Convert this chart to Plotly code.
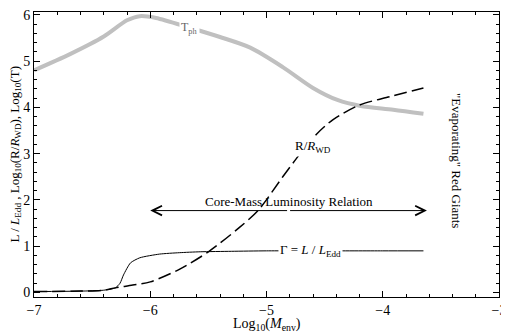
import plotly.graph_objects as go

# --- data ---
tph_x = [-7.0, -6.69, -6.4, -6.2, -6.09, -5.95, -5.66, -5.4, -5.14, -4.86, -4.6, -4.39, -4.19, -3.91, -3.65]
tph_y = [4.8, 5.15, 5.53, 5.88, 5.97, 5.93, 5.72, 5.52, 5.29, 4.87, 4.42, 4.16, 4.03, 3.95, 3.86]

r_x = [-7.0, -6.6, -6.4, -6.3, -6.15, -6.0, -5.75, -5.5, -5.24, -5.07, -4.86, -4.71, -4.57, -4.43, -4.2, -3.94, -3.65]
r_y = [0.02, 0.03, 0.05, 0.1, 0.16, 0.23, 0.5, 0.88, 1.39, 1.78, 2.5, 3.0, 3.42, 3.73, 4.05, 4.23, 4.42]

g_x = [-7.0, -6.6, -6.4, -6.3, -6.26, -6.23, -6.17, -6.09, -5.92, -5.75, -5.57, -5.3, -5.0, -4.5, -4.0, -3.65]
g_y = [0.02, 0.03, 0.05, 0.1, 0.2, 0.38, 0.64, 0.75, 0.83, 0.86, 0.88, 0.89, 0.9, 0.9, 0.9, 0.9]

arrow_x = [-6.0, -3.62]
arrow_y = 1.77

x_range = [-7, -3]
y_range = [-0.097, 6.06]

FONT = "Liberation Serif"

fig = go.Figure()
fig.add_trace(go.Scatter(x=tph_x, y=tph_y, mode="lines",
                         line=dict(color="#c0c0c0", width=4, shape="spline", smoothing=0.8)))
fig.add_trace(go.Scatter(x=r_x, y=r_y, mode="lines",
                         line=dict(color="black", width=1.5, dash="13px,5px", shape="spline", smoothing=0.8)))
fig.add_trace(go.Scatter(x=g_x, y=g_y, mode="lines",
                         line=dict(color="black", width=1, shape="spline", smoothing=0.6)))

ann = []
# arrow (two single-headed halves meeting at the middle)
mid_x = (arrow_x[0] + arrow_x[1]) / 2
for tip in arrow_x:
    ann.append(dict(x=tip, y=arrow_y, ax=mid_x, ay=arrow_y, xref="x", yref="y",
                    axref="x", ayref="y", text="", showarrow=True, arrowhead=5,
                    arrowsize=1.9, arrowwidth=1, arrowcolor="black"))
ann.append(dict(x=-4.81, y=arrow_y, yshift=9, xref="x", yref="y", showarrow=False,
                xanchor="center", yanchor="middle",
                text="Core-Mass Luminosity Relation", font=dict(size=13)))
ann.append(dict(x=-4.62, y=0.9, xref="x", yref="y", showarrow=False, bgcolor="white",
                xanchor="center", yanchor="middle",
                text="Γ = <i>L</i> / <i>L</i><sub>Edd</sub>", font=dict(size=13)))
ann.append(dict(x=-5.66, y=5.72, xref="x", yref="y", showarrow=False, bgcolor="white",
                xanchor="center", yanchor="middle",
                text="T<sub>ph</sub>", font=dict(size=12, color="#666666")))
ann.append(dict(x=-4.6, y=3.15, xref="x", yref="y", showarrow=False, bgcolor="white",
                xanchor="center", yanchor="middle",
                text="R/<i>R</i><sub>WD</sub>", font=dict(size=13)))
ann.append(dict(x=-3.36, y=2.84, xref="x", yref="y", showarrow=False, textangle=90,
                xanchor="center", yanchor="middle",
                text="\"Evaporating\" Red Giants", font=dict(size=13)))
# axis titles
ann.append(dict(x=0.5, y=0, xref="paper", yref="paper", yshift=-27, showarrow=False,
                xanchor="center", yanchor="middle",
                text="Log<sub>10</sub>(<i>M</i><sub>env</sub>)", font=dict(size=14)))
ann.append(dict(x=0, y=0.5, xref="paper", yref="paper", xshift=-19, showarrow=False, textangle=-90,
                xanchor="center", yanchor="middle",
                text="L / <i>L</i><sub>Edd</sub> , Log<sub>10</sub>(R/<i>R</i><sub>WD</sub>), Log<sub>10</sub>(T)",
                font=dict(size=13)))

axis_common = dict(showline=True, linecolor="black", linewidth=1, mirror="allticks",
                   ticks="inside", ticklen=6, tickwidth=1, tickcolor="black",
                   tickmode="linear", dtick=1, ticklabeloverflow="allow",
                   minor=dict(ticks="inside", ticklen=3, tickwidth=1, dtick=0.2, tickcolor="black"),
                   showgrid=False, zeroline=False, automargin=False)

# the page adds an 8px body margin, so margins are reduced accordingly
fig.update_layout(
    width=509, height=332,
    margin=dict(l=26, r=18, t=4, b=43),
    font=dict(family=FONT, size=14, color="black"),
    paper_bgcolor="white", plot_bgcolor="white",
    showlegend=False,
    annotations=ann,
    xaxis=dict(range=x_range, tick0=-7, **axis_common),
    yaxis=dict(range=y_range, tick0=0, **axis_common),
)
fig.write_html("out.html")
